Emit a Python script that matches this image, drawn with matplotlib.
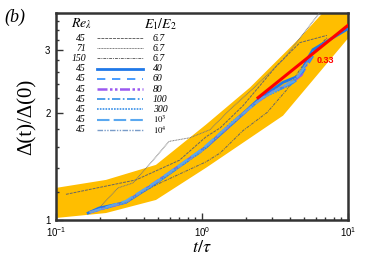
import numpy as np
import matplotlib
matplotlib.use("Agg")
import matplotlib.pyplot as plt
from matplotlib.ticker import FixedLocator, MultipleLocator, NullFormatter, LogLocator

plt.rcParams["font.family"] = ["Liberation Sans", "DejaVu Sans"]
plt.rcParams["mathtext.fontset"] = "stix"

# yellow scatter band (upper / lower edge)
band_up_x = [0.1, 0.22, 0.484, 1.065, 2.13, 4.69, 6.74, 10.0]
band_up_y = [1.23, 1.295, 1.427, 1.85, 2.35, 3.24, 3.81, 4.4]
band_lo_x = [0.1, 0.22, 0.484, 1.065, 3.59, 9.84, 10.0]
band_lo_y = [1.013, 1.046, 1.138, 1.40, 1.96, 3.2, 3.22]

# E1/E2 = 6.7 runs (grey)
re45_x = [0.117, 0.353, 0.7, 1.065, 1.33, 1.91, 3.26, 4.69, 7.18]
re45_y = [1.18, 1.295, 1.47, 1.71, 1.81, 2.09, 2.71, 3.14, 3.29]
re71_x = [0.197, 0.266, 0.337, 0.462, 0.594, 0.828, 1.134, 1.555, 2.13, 3.59, 6.4]
re71_y = [1.08, 1.23, 1.27, 1.47, 1.66, 1.70, 1.79, 2.04, 2.29, 2.81, 3.81]
re150_x = [0.288, 0.484, 1.065, 1.33, 1.91, 2.79, 3.82, 4.69, 5.49, 7.18]
re150_y = [1.116, 1.254, 1.455, 1.54, 1.78, 2.0, 2.32, 2.64, 2.89, 3.24]

# Re 45, larger E1/E2 (blue family)
e40_x = [0.166, 0.197, 0.30, 0.484, 1.065, 1.63, 2.42, 3.59, 4.69, 5.24, 5.75, 9.84]
e40_y = [1.046, 1.08, 1.12, 1.27, 1.60, 1.87, 2.17, 2.43, 2.54, 2.81, 3.0, 3.42]
e60_x = [0.17, 0.30, 0.50, 1.0, 1.6, 2.2, 3.0, 3.8, 4.6, 5.4, 6.0]
e60_y = [1.05, 1.12, 1.28, 1.56, 1.86, 2.10, 2.28, 2.36, 2.48, 2.75, 2.95]
e80_x = [0.17, 0.30, 0.50, 1.0, 1.6, 2.3, 3.1, 4.0, 4.8, 5.5]
e80_y = [1.05, 1.12, 1.29, 1.57, 1.86, 2.12, 2.30, 2.40, 2.55, 2.85]
e100_x = [0.17, 0.30, 0.50, 1.0, 1.7, 2.4, 3.2, 4.0, 4.9, 5.6]
e100_y = [1.05, 1.12, 1.28, 1.56, 1.90, 2.14, 2.32, 2.38, 2.60, 2.90]
e300_x = [0.17, 0.30, 0.50, 1.0, 1.6, 2.5, 3.3, 4.2, 5.0, 5.8]
e300_y = [1.05, 1.12, 1.29, 1.57, 1.88, 2.18, 2.30, 2.42, 2.66, 2.98]
e1e3_x = [0.17, 0.30, 0.50, 1.0, 1.7, 2.6, 3.4, 4.3, 5.1]
e1e3_y = [1.05, 1.13, 1.29, 1.58, 1.91, 2.20, 2.34, 2.45, 2.70]
e1e4_x = [0.17, 0.30, 0.50, 1.0, 1.6, 2.4, 3.5, 4.4, 5.3]
e1e4_y = [1.05, 1.12, 1.28, 1.56, 1.87, 2.15, 2.36, 2.50, 2.78]

# t^0.33 fit
fit_x = [2.42, 10.0]
fit_y = [2.2, 3.51]

re_labels = ["45", "71", "150", "45", "45", "45", "45", "45", "45", "45"]
e_labels = ["6.7", "6.7", "6.7", "40", "60", "80", "100", "300",
            r"$\mathit{10^3}$", r"$\mathit{10^4}$"]

series = [
    (re45_x, re45_y, dict(color="#666666", lw=0.7, ls=(0, (3, 1)))),
    (re71_x, re71_y, dict(color="#777777", lw=0.7, ls=(0, (1, 0.6)))),
    (re150_x, re150_y, dict(color="#666666", lw=0.7, ls=(0, (3, 1, 1, 1)))),
    (e40_x, e40_y, dict(color="#1f78e8", lw=2.0, ls="-")),
    (e60_x, e60_y, dict(color="#2a8cff", lw=1.2, ls=(0, (5, 4)))),
    (e80_x, e80_y, dict(color="#9b59f0", lw=1.8, ls=(0, (4, 1, 1, 1, 1, 1)))),
    (e100_x, e100_y, dict(color="#2f8de6", lw=1.2, ls=(0, (5, 1.5, 1, 1.5)))),
    (e300_x, e300_y, dict(color="#3a90e8", lw=1.2, ls=(0, (1, 0.7)))),
    (e1e3_x, e1e3_y, dict(color="#5aa8f0", lw=1.5, ls=(0, (6, 2)))),
    (e1e4_x, e1e4_y, dict(color="#7a9cc8", lw=1.0, ls=(0, (4, 1, 1, 1, 1, 1)))),
]

fig = plt.figure(figsize=(3.74, 2.56), dpi=100)
ax = fig.add_axes([56 / 374, 36 / 256, 292 / 374, 207 / 256])
ax.set_xscale("log")
ax.set_yscale("log")

band_x = band_up_x + band_lo_x[::-1]
band_y = band_up_y + band_lo_y[::-1]
ax.fill(band_x, band_y, color="#ffbe00", lw=0, zorder=1)

for xs, ys, st in series:
    ax.plot(xs, ys, zorder=3, **st)

ax.plot(fit_x, fit_y, color="red", lw=2.2, zorder=4)
ax.text(6.1, 2.8, "0.33", color="red", fontsize=6.5, fontweight="bold",
        va="center", ha="left")

ax.set_xlim(0.1, 10)
ax.set_ylim(1, 3.8)

ax.yaxis.set_major_locator(FixedLocator([1, 2, 3]))
ax.yaxis.set_major_formatter(plt.FuncFormatter(lambda v, p: f"{v:.0f}"))
ax.yaxis.set_minor_locator(MultipleLocator(0.2))
ax.yaxis.set_minor_formatter(NullFormatter())
ax.xaxis.set_major_locator(LogLocator(base=10))
ax.xaxis.set_minor_locator(LogLocator(base=10, subs=np.arange(2, 10)))
ax.xaxis.set_minor_formatter(NullFormatter())

ax.tick_params(which="both", direction="in", labelsize=7, width=1,
               color="#333333")
ax.tick_params(axis="y", pad=4)
ax.tick_params(axis="x", pad=4)
ax.tick_params(which="major", length=5)
ax.tick_params(which="minor", length=2.5)
for sp in ax.spines.values():
    sp.set_linewidth(1.8)
    sp.set_color("#333333")

ax.set_xlabel(r"$t/\tau$", fontsize=13, labelpad=0)
ax.set_ylabel("Δ(t)/Δ(0)", fontsize=15, family="Liberation Serif", labelpad=6)

# hand-made legend table
tr = ax.transAxes
ax.text(0.125, 0.950, r"$Re_\lambda$", transform=tr, ha="right", va="center",
        fontsize=10)
ax.text(0.300, 0.945, r"$E_1/E_2$", transform=tr, ha="left", va="center",
        fontsize=10)
for i, (re, el, (xs, ys, st)) in enumerate(zip(re_labels, e_labels, series)):
    yy = 0.879 - i * 0.0493
    ax.text(0.103, yy, re, transform=tr, ha="right", va="center",
            fontsize=7, family="Liberation Serif", style="italic")
    ax.plot([0.14, 0.298], [yy, yy], transform=tr, **st)
    ax.text(0.332, yy, el, transform=tr, ha="left", va="center",
            fontsize=6.3 if el.startswith("$") else 7,
            family="Liberation Serif", style="italic")

fig.text(4 / 374, 1 - 17 / 256, "(b)", fontsize=13, family="Liberation Serif",
         style="italic", va="center", ha="left")

fig.savefig("out.png", dpi=100)
